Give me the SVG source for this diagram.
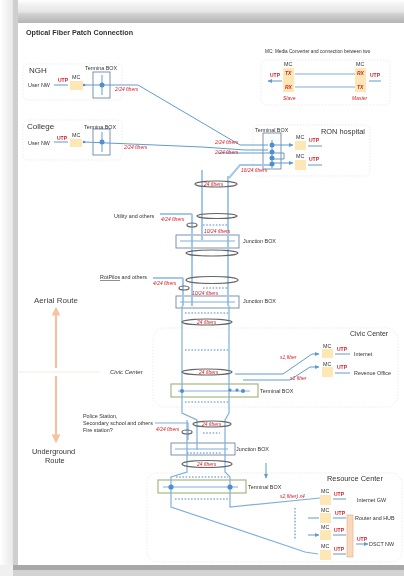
<svg xmlns="http://www.w3.org/2000/svg" width="404" height="576" viewBox="0 0 404 576">
<defs>
<linearGradient id="top" x1="0" y1="0" x2="0" y2="1"><stop offset="0" stop-color="#fff"/><stop offset="0.2" stop-color="#f2f2f2"/><stop offset="0.5" stop-color="#e6e6e6"/><stop offset="0.62" stop-color="#d0d0d0"/><stop offset="1" stop-color="#b4b4b4"/></linearGradient>
<linearGradient id="left" x1="0" y1="0" x2="1" y2="0"><stop offset="0" stop-color="#fff"/><stop offset="0.33" stop-color="#f4f4f4"/><stop offset="0.7" stop-color="#e8e8e8"/><stop offset="0.72" stop-color="#cfcfcf"/><stop offset="1" stop-color="#cfcfcf"/></linearGradient>
<marker id="a" markerWidth="5" markerHeight="5" refX="4" refY="2.5" orient="auto-start-reverse"><path d="M0 0.5L4.5 2.5L0 4.5Z" fill="#5f9bd0"/></marker>
<marker id="o" markerWidth="4" markerHeight="4" refX="3" refY="2" orient="auto-start-reverse"><path d="M0 0L4 2L0 4Z" fill="#f5c3a0"/></marker>
<filter id="b" x="-2%" y="-2%" width="104%" height="104%"><feGaussianBlur stdDeviation="0.45"/></filter>
</defs>
<style>
text{font-family:"Liberation Sans",Arial,sans-serif;fill:#333}
.t{font-size:5.4px}
.r{font-size:5px;fill:#d8202a;font-style:italic}
.u{font-size:5px;fill:#d8202a;font-weight:bold}
.h{font-size:8px;fill:#444}
.zone{fill:#fff;stroke:#e4e4e4;stroke-width:.7;stroke-dasharray:1.5 1.5}
.mc{fill:#fde7b4;stroke:none}
.box{fill:#fff;stroke:#6d87a8;stroke-width:.9}
.gbox{fill:#fff;stroke:#a3b781;stroke-width:1.2}
.l{fill:none;stroke:#7fb0dc;stroke-width:1.2}
.k{fill:none;stroke:#a4c8e8;stroke-width:2}
.n{fill:none;stroke:#5f9bd0;stroke-width:1}
.d{fill:none;stroke:#4f8bc6;stroke-width:1.1;stroke-dasharray:1.6 1.6}
.e{fill:none;stroke:#666;stroke-width:1.2}
.dot{fill:#4f8fd0}
</style>
<rect width="404" height="576" fill="#fff"/>
<g id="frame">
<rect x="0" y="0" width="404" height="23" fill="url(#top)"/>
<rect x="0" y="0" width="18" height="576" fill="url(#left)"/>
<rect x="18" y="23" width="386" height="542" fill="#fff"/>
<rect x="0" y="565" width="404" height="5" fill="#a8a8a8"/>
<rect x="0" y="570" width="404" height="6" fill="#d2d2d2"/>
<rect x="0" y="565" width="13" height="11" fill="#f0f0f0"/>
</g>
<g filter="url(#b)">
<text id="title" x="26" y="35" font-size="7.2" font-weight="bold" fill="#555">Optical Fiber Patch Connection</text>

<g id="zones">
<rect class="zone" x="23" y="64" width="99" height="36" rx="5"/>
<rect class="zone" x="23" y="120" width="99" height="40" rx="5"/>
<rect class="zone" x="261" y="60" width="129" height="45" rx="5"/>
<rect class="zone" x="253" y="125" width="117" height="51" rx="5"/>
<rect class="zone" x="153" y="328" width="245" height="79" rx="12"/>
<rect class="zone" x="147" y="473" width="255" height="89" rx="10"/>
</g>

<g id="box-nodes">
<g id="ngh-terminal"><rect class="box" x="93" y="72" width="17" height="26"/></g>
<g id="college-terminal"><rect class="box" x="93" y="129" width="17" height="26"/></g>
<g id="ron-terminal"><rect class="box" x="263" y="133" width="18" height="36"/></g>
<g id="junction-1"><rect class="box" x="176" y="235" width="63" height="13"/></g>
<g id="junction-2"><rect class="box" x="176" y="296" width="63" height="12"/></g>
<g id="civic-terminal"><rect class="gbox" x="171" y="384" width="87" height="13"/></g>
<g id="junction-3"><rect class="box" x="171" y="443" width="64" height="12"/></g>
<g id="resource-terminal"><rect class="gbox" x="158" y="480" width="88" height="13"/></g>
</g>

<g id="connectors">
<path class="n" d="M84 85H138L240 145H268M272 145H293" marker-end="url(#a)"/>
<path class="n" d="M84 142L202 147L245 150H268"/>
<path class="n" d="M218 153H284V159H272"/>
<path class="n" d="M272 163H293" marker-end="url(#a)"/>
<path class="k" d="M229 178L240 165H272"/>
<path class="l" d="M102 75V95M102 132V152M272 140V168"/>
<path class="k" d="M202 170V240M228 176V306M192 214V306M183 278V306"/>
<path class="k" d="M160 214H192M153 278H183"/>
<path class="l" d="M180 241H235M180 302H235"/>
<path class="l" d="M182 306V413L197 420V450M229 306V413L225 420V472L230 477V507L320 498"/>
<path class="l" d="M187 420V472L171 477V507L305 552L318 554"/>
<path class="l" d="M155 423H188V440M178 391H250M163 487H238M175 449H228"/>
<path class="n" d="M235 374H283L312 354H319" marker-end="url(#a)"/>
<path class="n" d="M243 380H290L310 367H319" marker-end="url(#a)"/>
<path class="n" d="M308 518H319M308 535H319" marker-end="url(#a)"/>
<path class="n" d="M266 463V478" marker-end="url(#a)"/>
<path class="n" d="M68 85H54M68 142H54M282 81H268" marker-end="url(#a)"/>
<path class="n" d="M308 146H322M308 165H322M335 354H350M335 373H350M369 81H381M333 499H346M333 518H346M333 535H346M333 554H346M356 544H368" marker-end="url(#a)"/>
<path class="l" d="M295 74H355M295 87H355"/>
<path class="d" d="M203 225H228M203 288H228M185 313H228M185 350H228M185 402H228M203 433H220M187 453H222M176 477H228M175 499H228M295 508V540"/>
<path d="M18 372H100" stroke="#efefe6" stroke-width="1.2" fill="none"/>
<path d="M56 368V309" stroke="#f5c3a0" stroke-width="2.2" fill="none" marker-end="url(#o)"/>
<path d="M56 376V441" stroke="#f5c3a0" stroke-width="2.2" fill="none" marker-end="url(#o)"/>
</g>

<g id="dots">
<circle class="dot" cx="84" cy="85" r="1.3"/><circle class="dot" cx="102" cy="85" r="2.5"/>
<circle class="dot" cx="84" cy="142" r="1.3"/><circle class="dot" cx="102" cy="142" r="2.5"/>
<circle class="dot" cx="272" cy="145" r="2.5"/><circle class="dot" cx="272" cy="152" r="2.5"/><circle class="dot" cx="272" cy="158" r="2.5"/><circle class="dot" cx="272" cy="164" r="2.5"/>
<circle class="dot" cx="182" cy="391" r="2"/><circle class="dot" cx="230" cy="390" r="1.6"/><circle class="dot" cx="237" cy="390" r="1.6"/><circle class="dot" cx="243" cy="391" r="2"/>
<circle class="dot" cx="171" cy="487" r="2.6"/><circle class="dot" cx="230" cy="487" r="2.6"/>
</g>

<g id="ellipses">
<ellipse class="e" cx="216" cy="184" rx="21" ry="3"/>
<ellipse class="e" cx="217" cy="216" rx="20" ry="2.5"/>
<ellipse class="e" cx="192" cy="225" rx="5" ry="2"/>
<ellipse class="e" cx="212" cy="253" rx="26" ry="3"/>
<ellipse class="e" cx="212" cy="280" rx="26" ry="3.5"/>
<ellipse class="e" cx="184" cy="288" rx="5" ry="2"/>
<ellipse class="e" cx="207" cy="322" rx="25" ry="3"/>
<ellipse class="e" cx="207" cy="372" rx="25" ry="3"/>
<ellipse class="e" cx="212" cy="424" rx="19" ry="3"/>
<ellipse class="e" cx="187" cy="432" rx="5" ry="2"/>
<ellipse class="e" cx="207" cy="464" rx="25" ry="3.5"/>
</g>

<g id="mc-nodes">
<g id="mc-ngh"><rect class="mc" x="70" y="81" width="13" height="9"/><text class="t" x="72" y="79">MC</text></g>
<g id="mc-college"><rect class="mc" x="70" y="139" width="12" height="8"/><text class="t" x="72" y="137">MC</text></g>
<g id="mc-slave"><rect class="mc" x="283" y="68" width="11" height="24"/><text class="t" x="284" y="66">MC</text><text class="r" style="font-weight:bold" x="285" y="75">TX</text><text class="r" style="font-weight:bold" x="285" y="89">RX</text></g>
<g id="mc-master"><rect class="mc" x="355" y="68" width="11" height="24"/><text class="t" x="356" y="66">MC</text><text class="r" style="font-weight:bold" x="357" y="75">RX</text><text class="r" style="font-weight:bold" x="357" y="89">TX</text></g>
<g id="mc-ron-1"><rect class="mc" x="295" y="141" width="11" height="9"/><text class="t" x="296" y="139">MC</text></g>
<g id="mc-ron-2"><rect class="mc" x="295" y="160" width="11" height="10"/><text class="t" x="296" y="158">MC</text></g>
<g id="mc-civic-1"><rect class="mc" x="322" y="349" width="11" height="9"/><text class="t" x="323" y="348">MC</text></g>
<g id="mc-civic-2"><rect class="mc" x="322" y="367" width="11" height="10"/><text class="t" x="323" y="366">MC</text></g>
<g id="mc-res-1"><rect class="mc" x="320" y="495" width="11" height="10"/><text class="t" x="321" y="493">MC</text></g>
<g id="mc-res-2"><rect class="mc" x="320" y="513" width="11" height="10"/><text class="t" x="321" y="512">MC</text></g>
<g id="mc-res-3"><rect class="mc" x="320" y="530" width="11" height="10"/><text class="t" x="321" y="529">MC</text></g>
<g id="mc-res-4"><rect class="mc" x="320" y="550" width="11" height="10"/><text class="t" x="321" y="548">MC</text></g>
<g id="dsct-bar"><rect x="347" y="515" width="6" height="42" fill="#f9d9bb" stroke="#e9a97f" stroke-width=".6"/></g>
</g>

<g id="labels">
<text x="29" y="73" font-size="8" fill="#444">NGH</text>
<text x="27" y="129" font-size="8" fill="#444">College</text>
<text class="t" x="85" y="70">Termina BOX</text>
<text class="t" x="84" y="129">Termina BOX</text>
<text class="t" x="28" y="87">User NW</text>
<text class="t" x="28" y="145">User NW</text>
<text class="u" x="58" y="82">UTP</text>
<text class="u" x="57" y="140">UTP</text>
<text class="r" x="115" y="91">2/24 fibers</text>
<text class="r" x="124" y="149">2/24 fibers</text>
<text x="265" y="53" font-size="4.7">MC: Media Converter  and connection between two</text>
<text class="u" x="270" y="77">UTP</text>
<text class="u" x="370" y="77">UTP</text>
<text class="r" x="283" y="100">Slave</text>
<text class="r" x="352" y="100">Master</text>
<text class="t" x="255" y="132">Terminal BOX</text>
<text x="321" y="134" font-size="7.4" fill="#444">RON hospital</text>
<text class="r" x="215" y="144">2/24 fibers</text>
<text class="r" x="215" y="154">2/24 fibers</text>
<text class="r" x="241" y="172">16/24 fibers</text>
<text class="u" x="309" y="142">UTP</text>
<text class="u" x="309" y="161">UTP</text>
<text class="r" x="204" y="186" font-size="4.5">24 fibers</text>
<text class="t" x="114" y="218">Utility and others</text>
<text class="r" x="161" y="221">4/24 fibers</text>
<text class="r" x="204" y="233">10/24 fibers</text>
<text class="t" x="243" y="243">Junction BOX</text>
<text class="t" x="100" y="279"><tspan text-decoration="underline">RotPilos</tspan> and others</text>
<text class="r" x="153" y="285">4/24 fibers</text>
<text class="r" x="192" y="295">10/24 fibers</text>
<text class="t" x="243" y="303">Junction BOX</text>
<text class="r" x="197" y="324">24 fibers</text>
<text class="r" x="199" y="374">24 fibers</text>
<text class="h" x="34" y="303">Aerial Route</text>
<text x="110" y="374" font-size="6" font-style="italic" fill="#555">Civic Center</text>
<text x="350" y="336" font-size="7" fill="#444">Civic Center</text>
<text class="r" x="280" y="359">s1,fiber</text>
<text class="r" x="290" y="380">s1 fiber</text>
<text class="u" x="337" y="351">UTP</text>
<text class="u" x="337" y="369">UTP</text>
<text class="t" x="354" y="356">Internet</text>
<text class="t" x="354" y="375">Revenue Office</text>
<text class="t" x="260" y="393">Terminal BOX</text>
<text class="t" x="83" y="418">Police Station,</text>
<text class="t" x="83" y="425">Secondary school and others</text>
<text class="t" x="83" y="432">Fire station?</text>
<text class="r" x="156" y="431">4/24 fibers</text>
<text class="r" x="202" y="426">24 fibers</text>
<text x="32" y="454" font-size="7.4" fill="#444">Underground</text>
<text x="45" y="463" font-size="7.4" fill="#444">Route</text>
<text class="t" x="236" y="451">Junction BOX</text>
<text class="r" x="197" y="466">24 fibers</text>
<text class="t" x="248" y="489">Terminal BOX</text>
<text x="327" y="481" font-size="7.4" fill="#444">Resource  Center</text>
<text class="r" x="280" y="498">s2,fiber) x4</text>
<text class="u" x="334" y="496">UTP</text>
<text class="u" x="335" y="515">UTP</text>
<text class="u" x="334" y="532">UTP</text>
<text class="u" x="334" y="551">UTP</text>
<text class="t" x="357" y="502">Internet GW</text>
<text class="t" x="355" y="520">Router and HUB</text>
<text class="u" x="357" y="541">UTP</text>
<text class="t" x="369" y="546">DSCT NW</text>
</g>
</g>
</svg>
